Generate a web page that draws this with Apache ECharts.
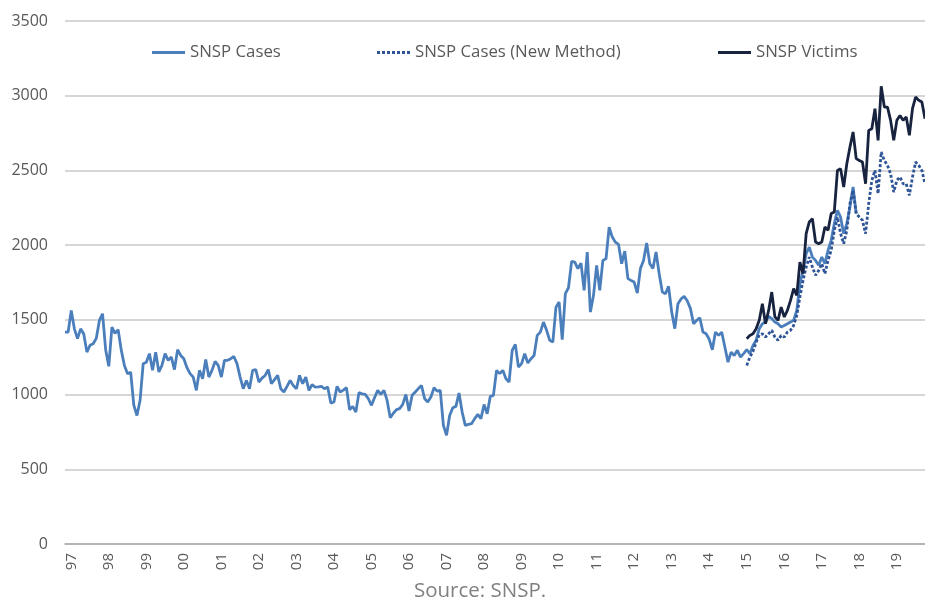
<!DOCTYPE html>
<html>
<head>
<meta charset="utf-8">
<script src="https://cdn.jsdelivr.net/npm/echarts@6/dist/echarts.min.js"></script>
<style>
html,body{margin:0;padding:0;background:#fff;}
#chart{width:925px;height:600px;}
</style>
</head>
<body>
<div id="chart"></div>
<script>
// Monthly categories start Nov 1996
const startYear = 1996;
const startMonth = 11;
const monthCount = 276;
const yearTicks = ['97','98','99','00','01','02','03','04','05','06','07','08','09','10','11','12','13','14','15','16','17','18','19'];
const yTicks = [0, 500, 1000, 1500, 2000, 2500, 3000, 3500];

// SNSP Cases (old method), from Nov 1996
const snspCases = [
1418,1418,1563,1440,1374,1440,1405,1284,1330,1340,
1376,1496,1541,1300,1189,1452,1409,1434,1296,1195,
1140,1150,930,860,960,1207,1217,1274,1162,1284,
1151,1195,1274,1229,1251,1167,1300,1262,1240,1180,
1140,1117,1028,1162,1106,1235,1117,1162,1222,1195,
1117,1229,1229,1240,1255,1207,1117,1039,1095,1039,
1162,1167,1084,1110,1128,1167,1073,1100,1128,1039,
1017,1055,1095,1060,1039,1128,1073,1117,1028,1066,
1050,1052,1055,1039,1050,943,950,1055,1017,1030,
1046,899,921,883,1013,1005,1001,972,928,980,
1028,1001,1028,961,845,875,899,906,934,1001,
890,995,1017,1040,1061,972,950,983,1046,1023,
1028,794,727,860,912,921,1010,883,794,800,
805,839,867,839,934,872,988,995,1162,1140,
1162,1106,1084,1296,1336,1184,1207,1274,1211,1240,
1262,1396,1418,1485,1430,1363,1351,1585,1619,1367,
1675,1715,1891,1887,1843,1880,1697,1954,1552,1664,
1865,1697,1898,1909,2121,2054,2020,2005,1876,1960,
1776,1764,1753,1679,1843,1898,2014,1876,1843,1954,
1809,1686,1675,1724,1552,1441,1608,1640,1657,1626,
1575,1474,1497,1514,1418,1407,1370,1300,1418,1396,
1418,1318,1217,1284,1262,1296,1251,1274,1300,1274,
1329,1363,1441,1474,1485,1523,1508,1485,1474,1452,
1463,1474,1485,1497,1563,1742,1831,1943,1987,1920,
1898,1865,1920,1876,1965,2032,2144,2233,2188,2077,
2144,2255,2390,2211
];

// New series start Jan 2015
const newSeriesStart = '2015-01';
const snspCasesNew = [
1195,1251,1290,1350,1400,1407,1385,1407,1430,1385,
1363,1396,1385,1418,1430,1463,1530,1653,1764,1853,
1920,1853,1798,1831,1876,1809,1898,1965,2099,2188,
2077,2010,2099,2278,2367,2211,2188,2166,2077,2278,
2434,2500,2345,2623,2567,2534,2478,2355,2434,2456,
2411,2411,2333,2456,2556,2534,2500,2411
];
const snspVictims = [
1374,1396,1407,1440,1497,1608,1474,1563,1686,1520,
1497,1585,1519,1563,1630,1709,1664,1887,1809,2077,
2155,2177,2021,2010,2021,2121,2099,2211,2222,2500,
2512,2389,2545,2656,2757,2579,2567,2556,2411,2768,
2779,2913,2701,3063,2924,2924,2835,2701,2835,2868,
2835,2857,2735,2913,2991,2969,2958,2846
];

const categories = [];
for (let i = 0; i < monthCount; i++) {
  const m0 = (startMonth - 1) + i;
  const y = startYear + Math.floor(m0 / 12);
  const m = (m0 % 12) + 1;
  categories.push(y + '-' + (m < 10 ? '0' + m : m));
}
function pad(arr, startCat) {
  const out = new Array(monthCount).fill(null);
  const s = categories.indexOf(startCat);
  for (let i = 0; i < arr.length && s + i < monthCount; i++) out[s + i] = arr[i];
  return out;
}
const casesData = pad(snspCases, categories[0]);
const newData = pad(snspCasesNew, newSeriesStart);
const victimsData = pad(snspVictims, newSeriesStart);

const textColor = '#595959';
const fontFam = '"Open Sans", "DejaVu Sans", sans-serif';
const dashIcon = 'path://M0 0h3v1h-3zM5 0h3v1h-3zM10 0h3v1h-3zM15 0h3v1h-3zM20 0h3v1h-3zM25 0h3v1h-3zM30 0h3v1h-3z';

const chart = echarts.init(document.getElementById('chart'), null, {renderer: 'canvas'});
const legendBase = {
  top: 44, itemWidth: 33, itemHeight: 3, itemGap: 0, padding: 0, selectedMode: false,
  symbolKeepAspect: false,
  textStyle: {color: textColor, fontSize: 16.8, fontFamily: fontFam}
};
chart.setOption({
  animation: false,
  backgroundColor: '#ffffff',
  grid: {left: 65, right: 0, top: 21, bottom: 56, containLabel: false},
  legend: [
    Object.assign({}, legendBase, {left: 152, data: [{name: 'SNSP Cases', icon: 'rect'}]}),
    Object.assign({}, legendBase, {left: 377, data: [{name: 'SNSP Cases (New Method)', icon: dashIcon}]}),
    Object.assign({}, legendBase, {left: 718, data: [{name: 'SNSP Victims', icon: 'rect'}]})
  ],
  xAxis: {
    type: 'category',
    data: categories,
    boundaryGap: false,
    axisLine: {show: true, lineStyle: {color: '#ababab', width: 1.5}},
    axisTick: {show: false},
    splitLine: {show: false},
    axisLabel: {
      rotate: 90,
      margin: 9,
      color: textColor,
      fontSize: 15,
      fontFamily: fontFam,
      interval: function (idx, val) { return val.slice(5) === '01'; },
      formatter: function (val) {
        const y = parseInt(val.slice(0, 4), 10);
        return yearTicks[y - 1997] || '';
      }
    }
  },
  yAxis: {
    type: 'value',
    min: yTicks[0],
    max: yTicks[yTicks.length - 1],
    interval: 500,
    axisLine: {show: false},
    axisTick: {show: false},
    splitLine: {show: true, lineStyle: {color: '#c8c8c8', width: 1.6}},
    axisLabel: {color: textColor, fontSize: 16, fontFamily: fontFam, margin: 17,
      formatter: function (v) { return String(v); }}
  },
  series: [
    {
      name: 'SNSP Cases', type: 'line', data: casesData, symbol: 'none', showSymbol: false,
      connectNulls: false,
      lineStyle: {color: '#4b7fbc', width: 2.8}, itemStyle: {color: '#4b7fbc'}, z: 2
    },
    {
      name: 'SNSP Cases (New Method)', type: 'line', data: newData, symbol: 'none', showSymbol: false,
      lineStyle: {color: '#2f5597', width: 2.8, type: [3, 2]}, itemStyle: {color: '#2f5597'}, z: 3
    },
    {
      name: 'SNSP Victims', type: 'line', data: victimsData, symbol: 'none', showSymbol: false,
      lineStyle: {color: '#17233f', width: 2.8}, itemStyle: {color: '#17233f'}, z: 4
    }
  ],
  graphic: [
    {
      type: 'text', x: 480, y: 591, z: 10,
      style: {text: 'Source: SNSP.', fill: '#808080', fontSize: 20.5, fontFamily: fontFam,
        align: 'center', verticalAlign: 'middle'}
    }
  ]
});
</script>
</body>
</html>
